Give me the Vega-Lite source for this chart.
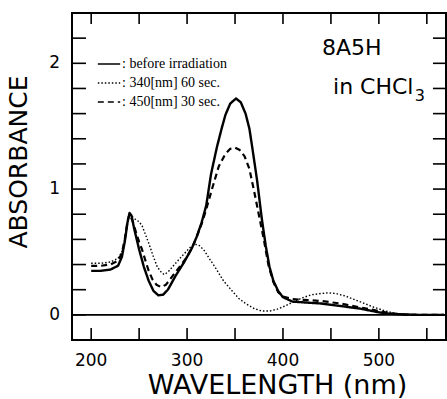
{
  "$schema": "https://vega.github.io/schema/vega-lite/v6.json",
  "width": 374,
  "height": 327,
  "autosize": {"type": "none"},
  "padding": {"left": 72, "top": 13, "right": 1, "bottom": 59},
  "background": "white",
  "config": {
    "view": {"stroke": "black", "strokeWidth": 2},
    "legend": {"padding": 0},
    "text": {"color": "black", "font": "DejaVu Sans"}
  },
  "datasets": {
    "spectra": [
      {"series": "before irradiation", "wl": 200, "A": 0.35},
      {"series": "before irradiation", "wl": 210, "A": 0.35},
      {"series": "before irradiation", "wl": 220, "A": 0.36},
      {"series": "before irradiation", "wl": 228, "A": 0.39},
      {"series": "before irradiation", "wl": 232, "A": 0.46},
      {"series": "before irradiation", "wl": 235, "A": 0.58},
      {"series": "before irradiation", "wl": 238, "A": 0.74},
      {"series": "before irradiation", "wl": 240, "A": 0.81},
      {"series": "before irradiation", "wl": 242, "A": 0.79},
      {"series": "before irradiation", "wl": 245, "A": 0.68},
      {"series": "before irradiation", "wl": 250, "A": 0.52},
      {"series": "before irradiation", "wl": 255, "A": 0.38},
      {"series": "before irradiation", "wl": 260, "A": 0.27},
      {"series": "before irradiation", "wl": 265, "A": 0.19},
      {"series": "before irradiation", "wl": 270, "A": 0.155},
      {"series": "before irradiation", "wl": 275, "A": 0.16},
      {"series": "before irradiation", "wl": 280, "A": 0.2},
      {"series": "before irradiation", "wl": 288, "A": 0.31},
      {"series": "before irradiation", "wl": 297, "A": 0.42},
      {"series": "before irradiation", "wl": 305, "A": 0.53},
      {"series": "before irradiation", "wl": 310, "A": 0.62},
      {"series": "before irradiation", "wl": 315, "A": 0.73},
      {"series": "before irradiation", "wl": 320, "A": 0.87},
      {"series": "before irradiation", "wl": 325, "A": 1.12},
      {"series": "before irradiation", "wl": 331, "A": 1.33},
      {"series": "before irradiation", "wl": 336, "A": 1.48},
      {"series": "before irradiation", "wl": 340, "A": 1.59},
      {"series": "before irradiation", "wl": 345, "A": 1.68},
      {"series": "before irradiation", "wl": 351, "A": 1.72},
      {"series": "before irradiation", "wl": 356, "A": 1.69},
      {"series": "before irradiation", "wl": 361, "A": 1.6},
      {"series": "before irradiation", "wl": 365, "A": 1.48},
      {"series": "before irradiation", "wl": 368, "A": 1.33},
      {"series": "before irradiation", "wl": 373, "A": 1.07},
      {"series": "before irradiation", "wl": 378, "A": 0.76},
      {"series": "before irradiation", "wl": 382, "A": 0.55},
      {"series": "before irradiation", "wl": 386, "A": 0.38},
      {"series": "before irradiation", "wl": 390, "A": 0.27},
      {"series": "before irradiation", "wl": 395, "A": 0.19},
      {"series": "before irradiation", "wl": 400, "A": 0.14},
      {"series": "before irradiation", "wl": 410, "A": 0.105},
      {"series": "before irradiation", "wl": 420, "A": 0.1},
      {"series": "before irradiation", "wl": 430, "A": 0.095},
      {"series": "before irradiation", "wl": 440, "A": 0.09},
      {"series": "before irradiation", "wl": 450, "A": 0.08},
      {"series": "before irradiation", "wl": 460, "A": 0.07},
      {"series": "before irradiation", "wl": 470, "A": 0.06},
      {"series": "before irradiation", "wl": 480, "A": 0.05},
      {"series": "before irradiation", "wl": 490, "A": 0.035},
      {"series": "before irradiation", "wl": 500, "A": 0.02},
      {"series": "before irradiation", "wl": 510, "A": 0.01},
      {"series": "before irradiation", "wl": 520, "A": 0.005},
      {"series": "before irradiation", "wl": 540, "A": 0.0},
      {"series": "before irradiation", "wl": 568, "A": 0.0},

      {"series": "340[nm] 60 sec.", "wl": 200, "A": 0.41},
      {"series": "340[nm] 60 sec.", "wl": 210, "A": 0.41},
      {"series": "340[nm] 60 sec.", "wl": 220, "A": 0.42},
      {"series": "340[nm] 60 sec.", "wl": 228, "A": 0.45},
      {"series": "340[nm] 60 sec.", "wl": 232, "A": 0.5},
      {"series": "340[nm] 60 sec.", "wl": 235, "A": 0.6},
      {"series": "340[nm] 60 sec.", "wl": 238, "A": 0.74},
      {"series": "340[nm] 60 sec.", "wl": 240, "A": 0.8},
      {"series": "340[nm] 60 sec.", "wl": 243, "A": 0.78},
      {"series": "340[nm] 60 sec.", "wl": 246, "A": 0.76},
      {"series": "340[nm] 60 sec.", "wl": 250, "A": 0.74},
      {"series": "340[nm] 60 sec.", "wl": 253, "A": 0.71},
      {"series": "340[nm] 60 sec.", "wl": 256, "A": 0.65},
      {"series": "340[nm] 60 sec.", "wl": 260, "A": 0.57},
      {"series": "340[nm] 60 sec.", "wl": 265, "A": 0.46},
      {"series": "340[nm] 60 sec.", "wl": 269, "A": 0.38},
      {"series": "340[nm] 60 sec.", "wl": 273, "A": 0.34},
      {"series": "340[nm] 60 sec.", "wl": 276, "A": 0.32},
      {"series": "340[nm] 60 sec.", "wl": 280, "A": 0.34},
      {"series": "340[nm] 60 sec.", "wl": 288, "A": 0.41},
      {"series": "340[nm] 60 sec.", "wl": 295, "A": 0.47},
      {"series": "340[nm] 60 sec.", "wl": 300, "A": 0.51},
      {"series": "340[nm] 60 sec.", "wl": 305, "A": 0.55},
      {"series": "340[nm] 60 sec.", "wl": 309, "A": 0.56},
      {"series": "340[nm] 60 sec.", "wl": 313, "A": 0.55},
      {"series": "340[nm] 60 sec.", "wl": 318, "A": 0.51},
      {"series": "340[nm] 60 sec.", "wl": 323, "A": 0.45},
      {"series": "340[nm] 60 sec.", "wl": 330, "A": 0.37},
      {"series": "340[nm] 60 sec.", "wl": 338, "A": 0.27},
      {"series": "340[nm] 60 sec.", "wl": 347, "A": 0.19},
      {"series": "340[nm] 60 sec.", "wl": 354, "A": 0.13},
      {"series": "340[nm] 60 sec.", "wl": 361, "A": 0.09},
      {"series": "340[nm] 60 sec.", "wl": 370, "A": 0.05},
      {"series": "340[nm] 60 sec.", "wl": 378, "A": 0.03},
      {"series": "340[nm] 60 sec.", "wl": 386, "A": 0.03},
      {"series": "340[nm] 60 sec.", "wl": 394, "A": 0.045},
      {"series": "340[nm] 60 sec.", "wl": 402, "A": 0.07},
      {"series": "340[nm] 60 sec.", "wl": 410, "A": 0.1},
      {"series": "340[nm] 60 sec.", "wl": 420, "A": 0.135},
      {"series": "340[nm] 60 sec.", "wl": 430, "A": 0.16},
      {"series": "340[nm] 60 sec.", "wl": 440, "A": 0.17},
      {"series": "340[nm] 60 sec.", "wl": 447, "A": 0.175},
      {"series": "340[nm] 60 sec.", "wl": 455, "A": 0.17},
      {"series": "340[nm] 60 sec.", "wl": 465, "A": 0.15},
      {"series": "340[nm] 60 sec.", "wl": 475, "A": 0.12},
      {"series": "340[nm] 60 sec.", "wl": 485, "A": 0.09},
      {"series": "340[nm] 60 sec.", "wl": 495, "A": 0.06},
      {"series": "340[nm] 60 sec.", "wl": 505, "A": 0.035},
      {"series": "340[nm] 60 sec.", "wl": 515, "A": 0.015},
      {"series": "340[nm] 60 sec.", "wl": 525, "A": 0.005},
      {"series": "340[nm] 60 sec.", "wl": 540, "A": 0.0},
      {"series": "340[nm] 60 sec.", "wl": 568, "A": 0.0},

      {"series": "450[nm] 30 sec.", "wl": 200, "A": 0.39},
      {"series": "450[nm] 30 sec.", "wl": 210, "A": 0.39},
      {"series": "450[nm] 30 sec.", "wl": 220, "A": 0.4},
      {"series": "450[nm] 30 sec.", "wl": 228, "A": 0.43},
      {"series": "450[nm] 30 sec.", "wl": 232, "A": 0.49},
      {"series": "450[nm] 30 sec.", "wl": 235, "A": 0.6},
      {"series": "450[nm] 30 sec.", "wl": 238, "A": 0.75},
      {"series": "450[nm] 30 sec.", "wl": 240, "A": 0.8},
      {"series": "450[nm] 30 sec.", "wl": 243, "A": 0.75},
      {"series": "450[nm] 30 sec.", "wl": 247, "A": 0.65},
      {"series": "450[nm] 30 sec.", "wl": 250, "A": 0.58},
      {"series": "450[nm] 30 sec.", "wl": 253, "A": 0.52},
      {"series": "450[nm] 30 sec.", "wl": 257, "A": 0.42},
      {"series": "450[nm] 30 sec.", "wl": 260, "A": 0.35},
      {"series": "450[nm] 30 sec.", "wl": 264, "A": 0.28},
      {"series": "450[nm] 30 sec.", "wl": 268, "A": 0.24},
      {"series": "450[nm] 30 sec.", "wl": 273, "A": 0.22},
      {"series": "450[nm] 30 sec.", "wl": 278, "A": 0.24},
      {"series": "450[nm] 30 sec.", "wl": 284, "A": 0.3},
      {"series": "450[nm] 30 sec.", "wl": 291, "A": 0.37},
      {"series": "450[nm] 30 sec.", "wl": 299, "A": 0.45},
      {"series": "450[nm] 30 sec.", "wl": 305, "A": 0.53},
      {"series": "450[nm] 30 sec.", "wl": 310, "A": 0.62},
      {"series": "450[nm] 30 sec.", "wl": 315, "A": 0.72},
      {"series": "450[nm] 30 sec.", "wl": 320, "A": 0.84},
      {"series": "450[nm] 30 sec.", "wl": 326, "A": 1.0},
      {"series": "450[nm] 30 sec.", "wl": 333, "A": 1.18},
      {"series": "450[nm] 30 sec.", "wl": 340, "A": 1.28},
      {"series": "450[nm] 30 sec.", "wl": 345, "A": 1.32},
      {"series": "450[nm] 30 sec.", "wl": 350, "A": 1.33},
      {"series": "450[nm] 30 sec.", "wl": 355, "A": 1.31},
      {"series": "450[nm] 30 sec.", "wl": 360, "A": 1.26},
      {"series": "450[nm] 30 sec.", "wl": 365, "A": 1.16},
      {"series": "450[nm] 30 sec.", "wl": 370, "A": 0.98},
      {"series": "450[nm] 30 sec.", "wl": 375, "A": 0.79},
      {"series": "450[nm] 30 sec.", "wl": 380, "A": 0.6},
      {"series": "450[nm] 30 sec.", "wl": 385, "A": 0.39},
      {"series": "450[nm] 30 sec.", "wl": 390, "A": 0.26},
      {"series": "450[nm] 30 sec.", "wl": 395, "A": 0.18},
      {"series": "450[nm] 30 sec.", "wl": 400, "A": 0.145},
      {"series": "450[nm] 30 sec.", "wl": 410, "A": 0.125},
      {"series": "450[nm] 30 sec.", "wl": 420, "A": 0.12},
      {"series": "450[nm] 30 sec.", "wl": 430, "A": 0.115},
      {"series": "450[nm] 30 sec.", "wl": 440, "A": 0.11},
      {"series": "450[nm] 30 sec.", "wl": 450, "A": 0.1},
      {"series": "450[nm] 30 sec.", "wl": 460, "A": 0.09},
      {"series": "450[nm] 30 sec.", "wl": 470, "A": 0.075},
      {"series": "450[nm] 30 sec.", "wl": 480, "A": 0.06},
      {"series": "450[nm] 30 sec.", "wl": 490, "A": 0.045},
      {"series": "450[nm] 30 sec.", "wl": 500, "A": 0.03},
      {"series": "450[nm] 30 sec.", "wl": 510, "A": 0.015},
      {"series": "450[nm] 30 sec.", "wl": 520, "A": 0.005},
      {"series": "450[nm] 30 sec.", "wl": 530, "A": 0.0},
      {"series": "450[nm] 30 sec.", "wl": 568, "A": 0.0}
    ],
    "xticks": [{"wl": 200}, {"wl": 250}, {"wl": 300}, {"wl": 350}, {"wl": 400}, {"wl": 450}, {"wl": 500}, {"wl": 550}],
    "yticks": [{"A": 0}, {"A": 0.2}, {"A": 0.4}, {"A": 0.6}, {"A": 0.8}, {"A": 1}, {"A": 1.2}, {"A": 1.4}, {"A": 1.6}, {"A": 1.8}, {"A": 2}, {"A": 2.2}],
    "xlabels": [{"wl": 200}, {"wl": 300}, {"wl": 400}, {"wl": 500}],
    "ylabels": [{"A": 0}, {"A": 1}, {"A": 2}]
  },
  "layer": [
    {
      "data": {"name": "spectra"},
      "mark": {"type": "line", "color": "black", "strokeJoin": "round"},
      "encoding": {
        "x": {"field": "wl", "type": "quantitative", "scale": {"domain": [180, 570], "nice": false, "zero": false}, "axis": null},
        "y": {"field": "A", "type": "quantitative", "scale": {"domain": [-0.2, 2.4], "nice": false, "zero": false}, "axis": null},
        "strokeDash": {"field": "series", "type": "nominal",
          "scale": {"domain": ["before irradiation", "340[nm] 60 sec.", "450[nm] 30 sec."], "range": [[1, 0], [1.5, 2], [6, 4]]},
          "legend": {"orient": "none", "legendX": 25, "legendY": 39, "title": null, "symbolType": "stroke", "symbolStrokeColor": "black",
            "symbolStrokeWidth": 1.3, "symbolSize": 500, "labelFont": "Liberation Serif", "labelFontSize": 14, "labelColor": "black",
            "rowPadding": 0, "labelOffset": 1, "labelExpr": "': ' + datum.label"}},
        "strokeWidth": {"condition": [
            {"test": "datum.series === 'before irradiation'", "value": 2.4},
            {"test": "datum.series === '450[nm] 30 sec.'", "value": 2.2}
          ], "value": 1.4}
      }
    },
    {
      "data": {"values": [{}]},
      "mark": {"type": "rule", "color": "black", "strokeWidth": 1.6},
      "encoding": {
        "x": {"datum": 180, "type": "quantitative", "axis": null},
        "x2": {"datum": 570},
        "y": {"datum": 0, "type": "quantitative", "axis": null}
      }
    },
    {
      "data": {"name": "xticks"},
      "mark": {"type": "rule", "color": "black", "strokeWidth": 1.6},
      "encoding": {
        "x": {"field": "wl", "type": "quantitative", "axis": null},
        "y": {"datum": -0.2, "type": "quantitative", "axis": null},
        "y2": {"datum": -0.105}
      }
    },
    {
      "data": {"name": "xticks"},
      "mark": {"type": "rule", "color": "black", "strokeWidth": 1.6},
      "encoding": {
        "x": {"field": "wl", "type": "quantitative", "axis": null},
        "y": {"datum": 2.4, "type": "quantitative", "axis": null},
        "y2": {"datum": 2.313}
      }
    },
    {
      "data": {"name": "yticks"},
      "mark": {"type": "rule", "color": "black", "strokeWidth": 1.6},
      "encoding": {
        "y": {"field": "A", "type": "quantitative", "axis": null},
        "x": {"datum": 180, "type": "quantitative", "axis": null},
        "x2": {"datum": 194.6}
      }
    },
    {
      "data": {"name": "yticks"},
      "mark": {"type": "rule", "color": "black", "strokeWidth": 1.6},
      "encoding": {
        "y": {"field": "A", "type": "quantitative", "axis": null},
        "x": {"datum": 570, "type": "quantitative", "axis": null},
        "x2": {"datum": 556.4}
      }
    },
    {
      "data": {"name": "xlabels"},
      "mark": {"type": "text", "fontSize": 17, "align": "center", "baseline": "top"},
      "encoding": {
        "x": {"field": "wl", "type": "quantitative", "axis": null},
        "y": {"datum": -0.303, "type": "quantitative", "axis": null},
        "text": {"field": "wl", "type": "quantitative", "format": "d"}
      }
    },
    {
      "data": {"name": "ylabels"},
      "mark": {"type": "text", "fontSize": 17, "align": "right", "baseline": "middle"},
      "encoding": {
        "y": {"field": "A", "type": "quantitative", "axis": null},
        "x": {"datum": 167.5, "type": "quantitative", "axis": null},
        "text": {"field": "A", "type": "quantitative", "format": "d"}
      }
    },
    {
      "data": {"values": [{}]},
      "mark": {"type": "text", "text": "WAVELENGTH (nm)", "fontSize": 27, "align": "center", "baseline": "alphabetic"},
      "encoding": {
        "x": {"datum": 394.3, "type": "quantitative", "axis": null},
        "y": {"datum": -0.629, "type": "quantitative", "axis": null}
      }
    },
    {
      "data": {"values": [{}]},
      "mark": {"type": "text", "text": "ABSORBANCE", "fontSize": 25, "align": "center", "baseline": "middle", "angle": 270},
      "encoding": {
        "x": {"datum": 124.7, "type": "quantitative", "axis": null},
        "y": {"datum": 1.215, "type": "quantitative", "axis": null}
      }
    },
    {
      "data": {"values": [{}]},
      "mark": {"type": "text", "text": "8A5H", "fontSize": 22, "align": "left", "baseline": "alphabetic"},
      "encoding": {
        "x": {"datum": 440.7, "type": "quantitative", "axis": null},
        "y": {"datum": 2.064, "type": "quantitative", "axis": null}
      }
    },
    {
      "data": {"values": [{}]},
      "mark": {"type": "text", "text": "in CHCl", "fontSize": 22, "align": "left", "baseline": "alphabetic"},
      "encoding": {
        "x": {"datum": 452.2, "type": "quantitative", "axis": null},
        "y": {"datum": 1.752, "type": "quantitative", "axis": null}
      }
    },
    {
      "data": {"values": [{}]},
      "mark": {"type": "text", "text": "3", "fontSize": 16, "align": "left", "baseline": "alphabetic"},
      "encoding": {
        "x": {"datum": 537.5, "type": "quantitative", "axis": null},
        "y": {"datum": 1.704, "type": "quantitative", "axis": null}
      }
    }
  ]
}
